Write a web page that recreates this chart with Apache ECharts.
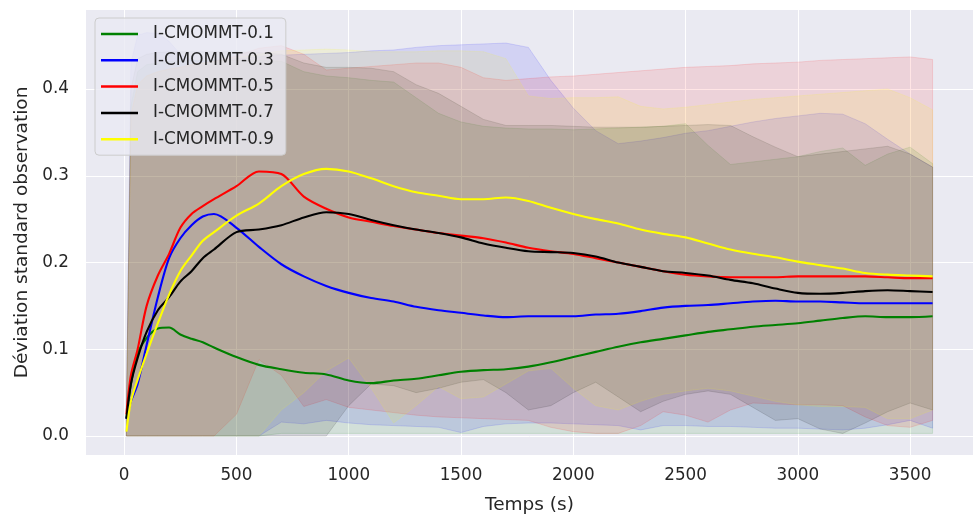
<!DOCTYPE html>
<html>
<head>
<meta charset="utf-8">
<script src="https://cdn.jsdelivr.net/npm/echarts@6/dist/echarts.min.js"></script>
<style>html,body{margin:0;padding:0;background:#fff}#c{width:973px;height:520px}</style>
</head>
<body>
<div id="c"></div>
<script>
// Time samples (s)
const times = [10,30,60,100,150,200,250,300,350,400,500,600,700,800,900,1000,1100,1200,1300,1400,1500,1600,1700,1800,1900,2000,2100,2200,2300,2400,2500,2600,2700,2800,2900,3000,3100,3200,3300,3400,3500,3600];
const seriesNames = ['I-CMOMMT-0.1','I-CMOMMT-0.3','I-CMOMMT-0.5','I-CMOMMT-0.7','I-CMOMMT-0.9'];
const xTicks = [0,500,1000,1500,2000,2500,3000,3500];
const yTicks = [0,0.1,0.2,0.3,0.4];

// mean curves
const mean01 = [0.02,0.06,0.095,0.113,0.124,0.125,0.117,0.112,0.108,0.102,0.091,0.082,0.077,0.073,0.071,0.064,0.061,0.064,0.066,0.07,0.074,0.076,0.077,0.08,0.085,0.091,0.097,0.103,0.108,0.112,0.116,0.12,0.123,0.126,0.128,0.13,0.133,0.136,0.138,0.137,0.137,0.138];
const mean03 = [0.02,0.04,0.06,0.105,0.16,0.205,0.228,0.243,0.253,0.256,0.24,0.218,0.198,0.184,0.173,0.165,0.159,0.155,0.149,0.145,0.142,0.139,0.137,0.138,0.138,0.138,0.14,0.141,0.144,0.148,0.15,0.151,0.153,0.155,0.156,0.155,0.155,0.154,0.153,0.153,0.153,0.153];
const mean05 = [0.025,0.07,0.1,0.15,0.185,0.21,0.24,0.256,0.265,0.273,0.288,0.305,0.302,0.276,0.262,0.252,0.247,0.242,0.238,0.234,0.231,0.228,0.223,0.217,0.213,0.21,0.205,0.2,0.195,0.19,0.186,0.184,0.183,0.183,0.183,0.184,0.184,0.184,0.184,0.183,0.182,0.182];
const mean07 = [0.02,0.06,0.09,0.12,0.145,0.16,0.178,0.19,0.205,0.215,0.235,0.238,0.243,0.252,0.258,0.256,0.249,0.243,0.238,0.234,0.229,0.222,0.217,0.213,0.212,0.211,0.207,0.2,0.195,0.19,0.188,0.185,0.18,0.176,0.17,0.165,0.164,0.165,0.167,0.168,0.167,0.166];
const mean09 = [0.005,0.04,0.065,0.095,0.13,0.163,0.19,0.208,0.225,0.235,0.254,0.268,0.288,0.302,0.308,0.305,0.297,0.288,0.281,0.277,0.273,0.273,0.275,0.271,0.263,0.256,0.25,0.245,0.238,0.233,0.229,0.222,0.215,0.21,0.206,0.201,0.197,0.193,0.188,0.186,0.185,0.184];

// upper bounds of the shaded bands
const upper01 = [0.03,0.38,0.42,0.428,0.43,0.432,0.432,0.433,0.433,0.433,0.433,0.433,0.432,0.42,0.415,0.413,0.41,0.408,0.39,0.372,0.362,0.357,0.355,0.354,0.354,0.353,0.354,0.355,0.356,0.357,0.36,0.335,0.313,0.316,0.319,0.322,0.328,0.332,0.312,0.325,0.333,0.314];
const upper03 = [0.03,0.43,0.462,0.465,0.464,0.455,0.44,0.433,0.432,0.433,0.435,0.437,0.439,0.44,0.441,0.442,0.444,0.445,0.448,0.45,0.451,0.452,0.453,0.448,0.41,0.378,0.352,0.337,0.34,0.344,0.349,0.352,0.357,0.362,0.366,0.369,0.372,0.371,0.36,0.342,0.325,0.31];
const upper05 = [0.03,0.37,0.405,0.415,0.42,0.423,0.425,0.428,0.43,0.432,0.438,0.447,0.45,0.44,0.422,0.424,0.426,0.428,0.43,0.43,0.425,0.413,0.41,0.412,0.414,0.415,0.417,0.419,0.421,0.423,0.425,0.426,0.427,0.429,0.43,0.431,0.433,0.434,0.435,0.436,0.437,0.434];
const upper07 = [0.03,0.40,0.435,0.44,0.442,0.443,0.443,0.443,0.443,0.443,0.443,0.442,0.44,0.43,0.425,0.425,0.424,0.42,0.405,0.395,0.38,0.365,0.358,0.358,0.358,0.357,0.356,0.356,0.356,0.357,0.358,0.359,0.358,0.345,0.333,0.322,0.325,0.328,0.331,0.334,0.325,0.31];
const upper09 = [0.01,0.37,0.405,0.415,0.42,0.423,0.425,0.428,0.43,0.432,0.436,0.44,0.444,0.445,0.446,0.445,0.443,0.443,0.443,0.444,0.444,0.443,0.435,0.392,0.389,0.39,0.39,0.391,0.38,0.377,0.379,0.382,0.385,0.388,0.39,0.392,0.394,0.396,0.398,0.4,0.39,0.376];

// lower bounds of the shaded bands
const lower01 = [0,0,0,0,0,0,0,0,0,0,0,0,0.003,0.003,0.003,0.003,0.003,0.003,0.003,0.003,0.003,0.003,0.003,0.003,0.003,0.003,0.003,0.003,0.003,0.003,0.003,0.003,0.003,0.003,0.003,0.003,0.003,0.003,0.003,0.003,0.003,0.003];
const lower03 = [0,0,0,0,0,0,0,0,0,0,0,0,0.016,0.014,0.018,0.015,0.013,0.012,0.011,0.01,0.004,0.011,0.014,0.015,0.015,0.014,0.013,0.012,0.007,0.012,0.012,0.011,0.011,0.01,0.009,0.009,0.008,0.007,0.009,0.013,0.018,0.009];
const lower05 = [0,0,0,0,0,0,0,0,0,0,0.025,0.088,0.07,0.034,0.042,0.033,0.03,0.027,0.024,0.022,0.021,0.02,0.019,0.018,0.01,0.005,0.003,0.003,0.012,0.028,0.024,0.016,0.03,0.038,0.037,0.036,0.036,0.035,0.022,0.012,0.01,0.018];
const lower07 = [0,0,0,0,0,0,0,0,0,0,0,0,0,0,0,0.035,0.06,0.058,0.05,0.055,0.062,0.065,0.05,0.03,0.035,0.05,0.062,0.045,0.028,0.04,0.048,0.052,0.048,0.033,0.018,0.02,0.008,0.003,0.015,0.028,0.038,0.03];
const lower09 = [0,0,0,0,0,0,0,0,0,0,0,0,0.03,0.05,0.075,0.09,0.055,0.015,0.035,0.057,0.043,0.045,0.06,0.075,0.078,0.055,0.035,0.03,0.04,0.048,0.052,0.055,0.052,0.046,0.04,0.036,0.034,0.034,0.033,0.02,0.02,0.03];

const colors = ['#008000','#0000ff','#ff0000','#000000','#ffff00'];
const rgbs = ['0,128,0','0,0,255','255,0,0','0,0,0','255,255,0'];
const means = [mean01, mean03, mean05, mean07, mean09];
const uppers = [upper01, upper03, upper05, upper07, upper09];
const lowers = [lower01, lower03, lower05, lower07, lower09];

const FONT = 'DejaVu Sans';
const series = [];
for (let k = 0; k < 5; k++) {
  const lo = lowers[k], up = uppers[k];
  series.push({
    name: 'band' + k, type: 'custom', silent: true, z: 1,
    data: times.map((t, i) => [t, lo[i], up[i]]),
    encode: {x: 0, y: [1, 2]},
    renderItem: function (params, api) {
      if (params.dataIndex !== 0) return null;
      const pts = [];
      for (let i = 0; i < times.length; i++) pts.push(api.coord([times[i], up[i]]));
      for (let i = times.length - 1; i >= 0; i--) pts.push(api.coord([times[i], lo[i]]));
      return {
        type: 'polygon', shape: {points: pts},
        style: {fill: 'rgba(' + rgbs[k] + ',0.1)', stroke: 'rgba(' + rgbs[k] + ',0.12)', lineWidth: 1}
      };
    }
  });
}
for (let k = 0; k < 5; k++) {
  series.push({
    name: seriesNames[k], type: 'line', symbol: 'none', showSymbol: false, smooth: 0.3,
    lineStyle: {width: 2.1, color: colors[k]}, itemStyle: {color: colors[k]},
    data: times.map((t, i) => [t, means[k][i]]), z: 5
  });
}

const chart = echarts.init(document.getElementById('c'), null, {renderer: 'canvas'});
chart.setOption({
  animation: false,
  backgroundColor: '#ffffff',
  textStyle: {fontFamily: FONT},
  grid: {left: 86, top: 10, height: 445, width: 903, containLabel: false,
         show: true, backgroundColor: '#eaeaf2', borderWidth: 0},
  xAxis: {
    type: 'value', min: -170, max: 3780,
    name: 'Temps (s)', nameLocation: 'middle', nameGap: 41,
    nameTextStyle: {fontSize: 18.5, color: '#262626', fontFamily: FONT},
    axisLine: {show: false}, axisTick: {show: false, customValues: xTicks},
    axisLabel: {customValues: xTicks, fontSize: 16.8, color: '#262626', margin: 12, fontFamily: FONT,
                formatter: v => String(v)},
    splitLine: {show: true, lineStyle: {color: '#ffffff', width: 1}}
  },
  yAxis: {
    type: 'value', min: -0.0219, max: 0.4911,
    name: 'Déviation standard observation', nameLocation: 'middle', nameGap: 54,
    nameTextStyle: {fontSize: 18.5, color: '#262626', fontFamily: FONT},
    axisLine: {show: false}, axisTick: {show: false, customValues: yTicks},
    axisLabel: {customValues: yTicks, fontSize: 16.8, color: '#262626', margin: 17, fontFamily: FONT,
                formatter: v => v.toFixed(1)},
    splitLine: {show: true, lineStyle: {color: '#ffffff', width: 1}}
  },
  legend: {
    data: seriesNames, orient: 'vertical', left: 95, top: 18,
    icon: 'rect', itemWidth: 37, itemHeight: 2.5, itemGap: 6.3,
    padding: [6, 12, 6, 6],
    backgroundColor: 'rgba(234,234,242,0.8)', borderColor: '#cccccc', borderWidth: 1, borderRadius: 4,
    textStyle: {fontSize: 16.8, color: '#262626', fontFamily: FONT, lineHeight: 20, padding: [0, 0, 0, 10]}
  },
  series: series
});
</script>
</body>
</html>
